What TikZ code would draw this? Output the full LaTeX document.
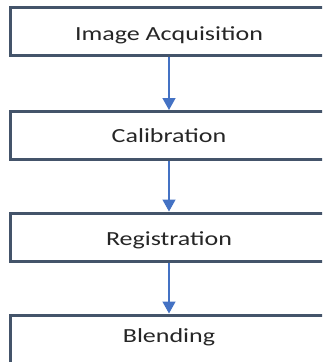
\documentclass[tikz,border=0pt]{standalone}
\usepackage{fontspec}
\setmainfont{Carlito}[FakeStretch=1.3]
\usetikzlibrary{arrows.meta}
\definecolor{boxline}{RGB}{68,84,106}
\definecolor{arrowblue}{RGB}{68,114,196}
\definecolor{txt}{RGB}{38,38,38}
\begin{document}
\begin{tikzpicture}[x=1pt,y=-1pt,
  stage/.style={draw=boxline,line width=3pt,fill=white,minimum width=318pt,
    minimum height=48pt,inner sep=0pt,text=txt,text height=13pt,text depth=0pt,
    font=\fontsize{20}{24}\selectfont},
  flow/.style={draw=arrowblue,line width=1.4pt,-{Triangle[width=13pt,length=12pt]}}]
\useasboundingbox (0,0) rectangle (322,362);
\clip (0,0) rectangle (322,362);
\fill[white] (0,0) rectangle (322,362);
\node[stage] (acq) at (169,31.5) {\raisebox{-2.5pt}{Image Acquisition}};
\node[stage] (cal) at (169,135.5) {Calibration};
\node[stage] (reg) at (169,237) {\raisebox{-1.8pt}{Registration}};
\node[stage] (ble) at (169,339) {\raisebox{3.5pt}{Blending}};
\draw[flow] (acq.south) -- (cal.north);
\draw[flow] (cal.south) -- (reg.north);
\draw[flow] (reg.south) -- (ble.north);
\end{tikzpicture}
\end{document}
